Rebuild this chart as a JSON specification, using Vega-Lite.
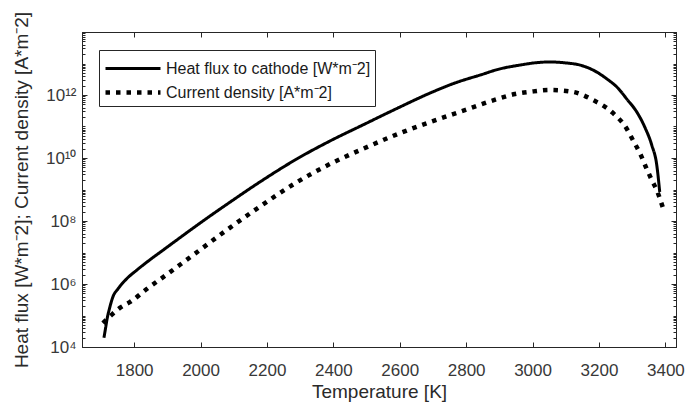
{
  "$schema": "https://vega.github.io/schema/vega-lite/v6.json",
  "width": 594,
  "height": 315,
  "autosize": {"type": "none"},
  "padding": {"left": 82, "top": 32, "right": 9, "bottom": 62},
  "background": "white",
  "config": {
    "font": "Liberation Sans",
    "view": {"stroke": "#262626", "strokeWidth": 1},
    "axis": {"grid": false, "domainColor": "#262626", "tickColor": "#262626", "labelColor": "#383838", "titleColor": "#2a2a2a", "labelFont": "Liberation Sans", "titleFont": "Liberation Sans", "titleFontWeight": "normal"}
  },
  "data": {
    "values": [
      {"s": "h", "T": 1709, "v": 1.95e4},
      {"s": "h", "T": 1714, "v": 3.98e4},
      {"s": "h", "T": 1718, "v": 7.24e4},
      {"s": "h", "T": 1727, "v": 1.86e5},
      {"s": "h", "T": 1736, "v": 3.89e5},
      {"s": "h", "T": 1751, "v": 6.92e5},
      {"s": "h", "T": 1778, "v": 1.48e6},
      {"s": "h", "T": 1809, "v": 2.82e6},
      {"s": "h", "T": 1839, "v": 5.01e6},
      {"s": "h", "T": 1893, "v": 1.32e7},
      {"s": "h", "T": 1938, "v": 2.95e7},
      {"s": "h", "T": 1998, "v": 8.51e7},
      {"s": "h", "T": 2089, "v": 3.98e8},
      {"s": "h", "T": 2179, "v": 1.74e9},
      {"s": "h", "T": 2290, "v": 9.33e9},
      {"s": "h", "T": 2390, "v": 3.47e10},
      {"s": "h", "T": 2489, "v": 1.12e11},
      {"s": "h", "T": 2591, "v": 3.72e11},
      {"s": "h", "T": 2691, "v": 1.15e12},
      {"s": "h", "T": 2766, "v": 2.4e12},
      {"s": "h", "T": 2841, "v": 4.27e12},
      {"s": "h", "T": 2902, "v": 6.76e12},
      {"s": "h", "T": 2962, "v": 8.91e12},
      {"s": "h", "T": 3007, "v": 1.05e13},
      {"s": "h", "T": 3052, "v": 1.12e13},
      {"s": "h", "T": 3097, "v": 1.05e13},
      {"s": "h", "T": 3143, "v": 8.91e12},
      {"s": "h", "T": 3188, "v": 5.75e12},
      {"s": "h", "T": 3224, "v": 3.24e12},
      {"s": "h", "T": 3257, "v": 1.66e12},
      {"s": "h", "T": 3284, "v": 7.41e11},
      {"s": "h", "T": 3314, "v": 2.88e11},
      {"s": "h", "T": 3338, "v": 9.55e10},
      {"s": "h", "T": 3359, "v": 2.57e10},
      {"s": "h", "T": 3374, "v": 6.03e9},
      {"s": "h", "T": 3383, "v": 8.32e8},
      {"s": "c", "T": 1706, "v": 5.75e4},
      {"s": "c", "T": 1732, "v": 1.05e5},
      {"s": "c", "T": 1757, "v": 1.74e5},
      {"s": "c", "T": 1788, "v": 2.69e5},
      {"s": "c", "T": 1839, "v": 7.08e5},
      {"s": "c", "T": 1893, "v": 1.82e6},
      {"s": "c", "T": 1938, "v": 4.07e6},
      {"s": "c", "T": 1998, "v": 1.2e7},
      {"s": "c", "T": 2059, "v": 3.63e7},
      {"s": "c", "T": 2089, "v": 6.17e7},
      {"s": "c", "T": 2179, "v": 2.88e8},
      {"s": "c", "T": 2290, "v": 1.7e9},
      {"s": "c", "T": 2390, "v": 6.46e9},
      {"s": "c", "T": 2489, "v": 1.95e10},
      {"s": "c", "T": 2601, "v": 6.17e10},
      {"s": "c", "T": 2691, "v": 1.38e11},
      {"s": "c", "T": 2796, "v": 3.31e11},
      {"s": "c", "T": 2893, "v": 7.41e11},
      {"s": "c", "T": 2947, "v": 1.07e12},
      {"s": "c", "T": 2992, "v": 1.26e12},
      {"s": "c", "T": 3052, "v": 1.45e12},
      {"s": "c", "T": 3121, "v": 1.26e12},
      {"s": "c", "T": 3182, "v": 6.92e11},
      {"s": "c", "T": 3242, "v": 2.69e11},
      {"s": "c", "T": 3284, "v": 8.32e10},
      {"s": "c", "T": 3302, "v": 3.72e10},
      {"s": "c", "T": 3323, "v": 1.45e10},
      {"s": "c", "T": 3344, "v": 4.47e9},
      {"s": "c", "T": 3359, "v": 2.0e9},
      {"s": "c", "T": 3374, "v": 9.55e8},
      {"s": "c", "T": 3392, "v": 2.75e8}
    ]
  },
  "layer": [
    {
      "mark": {"type": "line", "strokeCap": "butt", "strokeJoin": "round", "color": "black", "interpolate": "monotone"},
      "encoding": {
        "x": {
          "field": "T", "type": "quantitative",
          "scale": {"domain": [1643, 3432], "nice": false, "zero": false},
          "axis": {"orient": "bottom", "values": [1800, 2000, 2200, 2400, 2600, 2800, 3000, 3200, 3400], "format": "d", "tickSize": -5, "labelPadding": 20, "labelFontSize": 17, "title": "Temperature [K]", "titleFontSize": 19, "titlePadding": 4, "labelFlush": false, "labelOverlap": false}
        },
        "y": {
          "field": "v", "type": "quantitative",
          "scale": {"type": "log", "domain": [1e4, 1e14], "nice": false},
          "axis": {
            "orient": "left",
            "values": [1e4,2e4,3e4,4e4,5e4,6e4,7e4,8e4,9e4,1e5,2e5,3e5,4e5,5e5,6e5,7e5,8e5,9e5,1e6,2e6,3e6,4e6,5e6,6e6,7e6,8e6,9e6,1e7,2e7,3e7,4e7,5e7,6e7,7e7,8e7,9e7,1e8,2e8,3e8,4e8,5e8,6e8,7e8,8e8,9e8,1e9,2e9,3e9,4e9,5e9,6e9,7e9,8e9,9e9,1e10,2e10,3e10,4e10,5e10,6e10,7e10,8e10,9e10,1e11,2e11,3e11,4e11,5e11,6e11,7e11,8e11,9e11,1e12,2e12,3e12,4e12,5e12,6e12,7e12,8e12,9e12,1e13,2e13,3e13,4e13,5e13,6e13,7e13,8e13,9e13,1e14],
            "labelExpr": "datum.value == 1e4 ? '10⁴' : datum.value == 1e6 ? '10⁶' : datum.value == 1e8 ? '10⁸' : datum.value == 1e10 ? '10¹⁰' : datum.value == 1e12 ? '10¹²' : ''",
            "labelOverlap": false,
            "labelFlush": false,
            "labelFontSize": 17,
            "labelPadding": 11,
            "tickSize": {"condition": {"test": "indexof([10000, 1000000, 100000000, 10000000000, 1000000000000], datum.value) >= 0", "value": -5}, "value": -3},
            "title": "Heat flux [W*m⁻2]; Current density [A*m⁻2]",
            "titleFontSize": 19,
            "titleX": -61,
            "titleBaseline": "middle"
          }
        },
        "strokeDash": {
          "field": "s", "type": "nominal",
          "scale": {"domain": ["h", "c"], "range": [[1, 0], [4.5, 6]]},
          "legend": {
            "orient": "none", "legendX": 17, "legendY": 18, "title": null,
            "labelExpr": "datum.value == 'h' ? 'Heat flux to cathode [W*m⁻2]' : 'Current density [A*m⁻2]'",
            "labelFontSize": 16, "labelColor": "#1a1a1a", "labelFont": "Liberation Sans", "labelLimit": 0,
            "strokeColor": "#262626", "fillColor": "white", "padding": 4,
            "symbolType": "M-1,0H3.23", "symbolSize": 676, "symbolStrokeColor": "black",
            "labelOffset": 32, "rowPadding": -1
          }
        },
        "strokeWidth": {
          "field": "s", "type": "nominal",
          "scale": {"domain": ["h", "c"], "range": [3, 4.5]}
        }
      }
    },
    {
      "mark": {"type": "line", "opacity": 0},
      "encoding": {
        "x": {
          "field": "T", "type": "quantitative",
          "axis": {"orient": "top", "values": [1800, 2000, 2200, 2400, 2600, 2800, 3000, 3200, 3400], "tickSize": -5, "labels": false, "title": null}
        },
        "y": {
          "field": "v", "type": "quantitative",
          "axis": {
            "orient": "right",
            "values": [1e4,2e4,3e4,4e4,5e4,6e4,7e4,8e4,9e4,1e5,2e5,3e5,4e5,5e5,6e5,7e5,8e5,9e5,1e6,2e6,3e6,4e6,5e6,6e6,7e6,8e6,9e6,1e7,2e7,3e7,4e7,5e7,6e7,7e7,8e7,9e7,1e8,2e8,3e8,4e8,5e8,6e8,7e8,8e8,9e8,1e9,2e9,3e9,4e9,5e9,6e9,7e9,8e9,9e9,1e10,2e10,3e10,4e10,5e10,6e10,7e10,8e10,9e10,1e11,2e11,3e11,4e11,5e11,6e11,7e11,8e11,9e11,1e12,2e12,3e12,4e12,5e12,6e12,7e12,8e12,9e12,1e13,2e13,3e13,4e13,5e13,6e13,7e13,8e13,9e13,1e14],
            "labels": false,
            "title": null,
            "tickSize": {"condition": {"test": "indexof([10000, 1000000, 100000000, 10000000000, 1000000000000], datum.value) >= 0", "value": -5}, "value": -3}
          }
        }
      }
    }
  ],
  "resolve": {"axis": {"x": "independent", "y": "independent"}}
}
